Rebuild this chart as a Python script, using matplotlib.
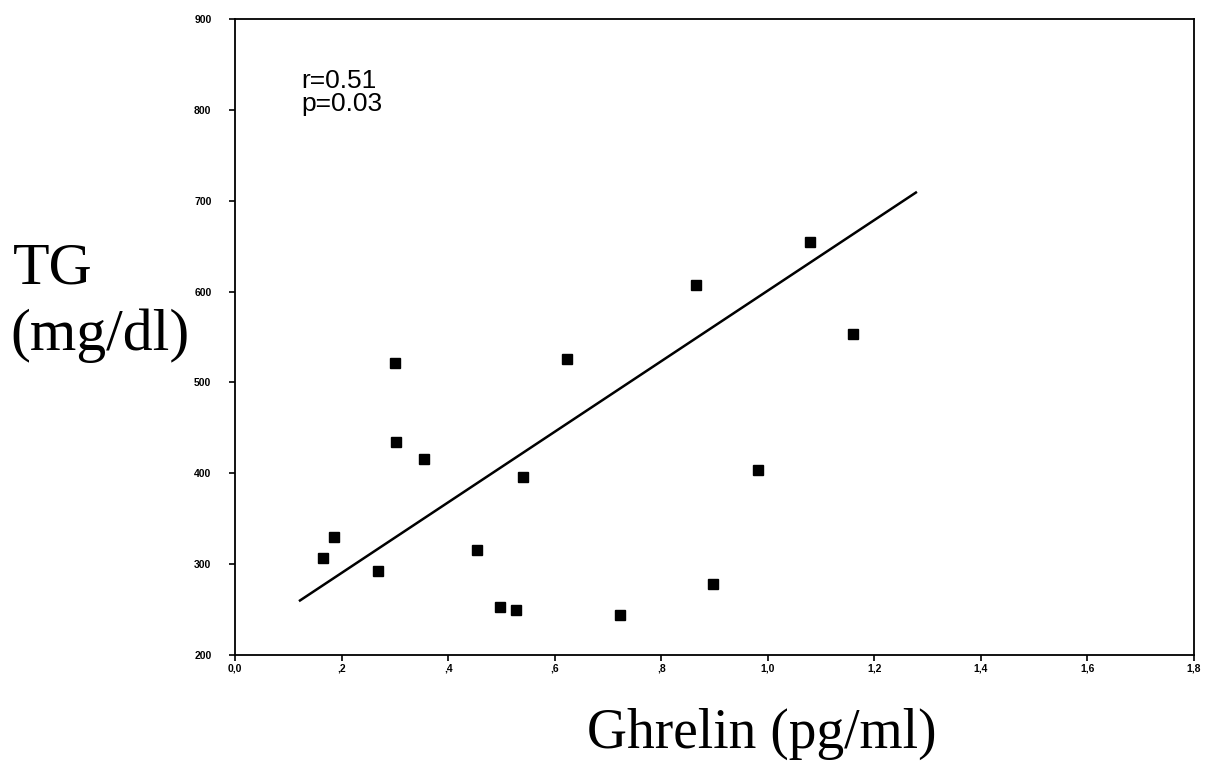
import numpy as np
import matplotlib.pyplot as plt

# values
ghrelin = [0.166, 0.186, 0.268, 0.302, 0.300, 0.355, 0.454, 0.497, 0.527,
           0.541, 0.624, 0.723, 0.865, 0.897, 0.982, 1.079, 1.160]
tg = [307, 330, 292, 434, 521, 416, 316, 253, 250,
      396, 526, 244, 607, 278, 404, 655, 553]

# regression line as drawn (end points)
fit_x = [0.122, 1.278]
fit_y = [260, 709]

x_ticks = [0.0, 0.2, 0.4, 0.6, 0.8, 1.0, 1.2, 1.4, 1.6, 1.8]
x_labels = ['0,0', ',2', ',4', ',6', ',8', '1,0', '1,2', '1,4', '1,6', '1,8']
y_ticks = [200, 300, 400, 500, 600, 700, 800, 900]

fig = plt.figure(figsize=(12.06, 7.65), dpi=100)
ax = fig.add_axes([235 / 1206, 1 - 655 / 765, (1194 - 235) / 1206, (655 - 19) / 765])

ax.plot(fit_x, fit_y, color='black', lw=1.8, zorder=2)
ax.plot(ghrelin, tg, 's', color='black', markersize=6.5, zorder=3)

ax.set_xlim(0, 1.8)
ax.set_ylim(200, 900)
ax.set_xticks(x_ticks)
ax.set_xticklabels(x_labels)
ax.set_yticks(y_ticks)

for s in ax.spines.values():
    s.set_linewidth(1.3)
    s.set_color('black')

ax.tick_params(axis='both', direction='out', length=4, width=1.2, labelsize=7.5)
ax.tick_params(axis='y', pad=13)
ax.tick_params(axis='x', pad=2)
for lab in ax.get_xticklabels() + ax.get_yticklabels():
    lab.set_fontweight('bold')
    lab.set_family('Liberation Sans')

ax.text(0.069, 0.922, 'r=0.51\np=0.03', transform=ax.transAxes, fontsize=19,
        family='Liberation Sans', va='top', ha='left', linespacing=0.95)

fig.text(13 / 1206, 1 - 283 / 765, 'TG', family='Liberation Serif', fontsize=43,
         va='baseline', ha='left')
fig.text(10 / 1206, 1 - 350 / 765, '(mg/dl)', family='Liberation Serif', fontsize=43,
         va='baseline', ha='left')
fig.text(587 / 1206, 1 - 748 / 765, 'Ghrelin (pg/ml)', family='Liberation Serif',
         fontsize=40, va='baseline', ha='left')

fig.savefig('out.png', dpi=100)
